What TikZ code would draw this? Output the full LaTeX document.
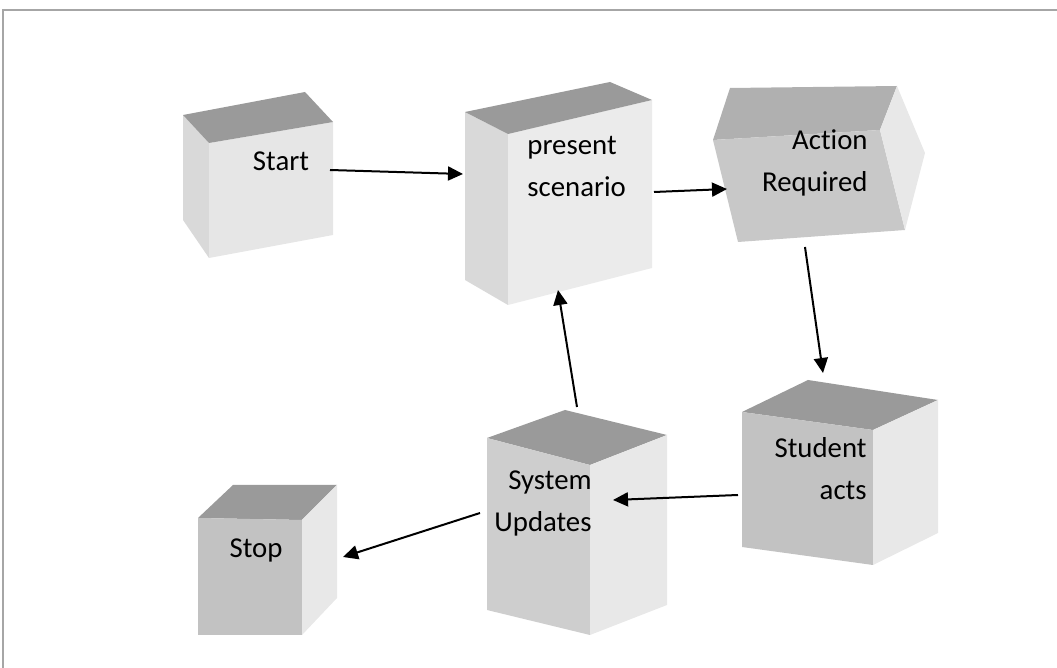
\documentclass[tikz,border=0pt]{standalone}
\usepackage{fontspec}
\setmainfont{Carlito}[Ligatures=NoCommon]
\usetikzlibrary{arrows.meta}
\definecolor{topdark}{HTML}{9A9A9A}
\definecolor{topmid}{HTML}{B0B0B0}
\definecolor{facelight}{HTML}{E6E6E6}
\definecolor{sidelight}{HTML}{D9D9D9}
\definecolor{facemid}{HTML}{C2C2C2}
\definecolor{sidepale}{HTML}{E8E8E8}
\tikzset{
  arr/.style={-{Triangle[length=7.5pt,width=7pt]},line width=1pt},
  lbl/.style={font=\fontsize{14.4}{21}\selectfont,inner sep=0pt}
}
\begin{document}
\begin{tikzpicture}[x=0.5pt,y=-0.5pt]
      \useasboundingbox (0,0) rectangle (1057,668);
      \draw[gray!70,line width=0.6pt] (3,668) -- (3,10) -- (1057,10);
      \fill[sidelight] (183,115) -- (209,143) -- (209,258) -- (183,220) -- cycle;
      \fill[facelight] (209,143) -- (333,122) -- (333,235) -- (209,258) -- cycle;
      \fill[topdark] (183,115) -- (305,92) -- (333,122) -- (209,143) -- cycle;
      \fill[sidelight] (465,112) -- (508,134) -- (508,305) -- (465,280) -- cycle;
      \fill[facelight!80!white] (508,134) -- (652,100) -- (652,268) -- (508,305) -- cycle;
      \fill[topdark] (465,112) -- (610,82) -- (652,100) -- (508,134) -- cycle;
      \fill[topmid] (713,140) -- (730,88) -- (897,86) -- (880,130) -- cycle;
      \fill[facemid!90!white] (713,140) -- (880,130) -- (905,230) -- (738,242) -- cycle;
      \fill[sidelight!60!white] (880,130) -- (897,86) -- (925,153) -- (905,230) -- cycle;
      \fill[topdark] (742,412) -- (808,380) -- (938,400) -- (873,430) -- cycle;
      \fill[facemid] (742,412) -- (873,430) -- (873,565) -- (742,547) -- cycle;
      \fill[sidepale] (873,430) -- (938,400) -- (938,533) -- (873,565) -- cycle;
      \fill[topdark] (487,438) -- (565,410) -- (667,435) -- (590,465) -- cycle;
      \fill[facemid!80!white] (487,438) -- (590,465) -- (590,635) -- (487,610) -- cycle;
      \fill[sidepale] (590,465) -- (667,435) -- (667,605) -- (590,635) -- cycle;
      \fill[topdark] (198,518) -- (233,485) -- (337,485) -- (302,520) -- cycle;
      \fill[facemid] (198,518) -- (302,520) -- (302,635) -- (198,635) -- cycle;
      \fill[sidelight!60!white] (302,520) -- (337,485) -- (337,598) -- (302,635) -- cycle;
      \node[lbl,anchor=base] (start) at (281,171) {Start};
      \node[lbl,anchor=base west,align=left] (scenario) at (527,197) {present\\scenario};
      \node[lbl,anchor=base east,align=right] (action) at (868,192) {Action\\Required};
      \node[lbl,anchor=base east,align=right] (student) at (867,500) {Student\\acts};
      \node[lbl,anchor=base east,align=right] (system) at (592,532) {System\\Updates};
      \node[lbl,anchor=base] (stop) at (256,558) {Stop};
      \coordinate (start-out) at (330,170);
      \coordinate (scenario-in) at (463,174);
      \coordinate (scenario-out) at (654,192);
      \coordinate (action-in) at (727,189);
      \coordinate (action-out) at (805,247);
      \coordinate (student-in) at (823,373);
      \coordinate (student-out) at (738,495);
      \coordinate (system-in) at (613,500);
      \coordinate (system-up) at (577,407);
      \coordinate (scenario-back) at (558,290);
      \coordinate (system-out) at (480,513);
      \coordinate (stop-in) at (343,557);
      \begin{scope}[arr]
        \draw (start-out) to (scenario-in);
        \draw (scenario-out) to (action-in);
        \draw (action-out) to (student-in);
        \draw (student-out) to (system-in);
        \draw (system-up) to (scenario-back);
        \draw (system-out) to (stop-in);
      \end{scope}
    \end{tikzpicture}
\end{document}
